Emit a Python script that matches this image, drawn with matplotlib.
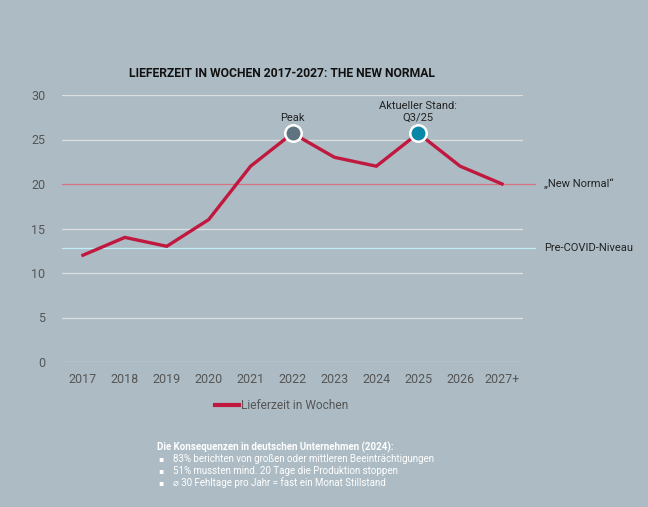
import matplotlib
matplotlib.use("Agg")
import matplotlib.pyplot as plt
import matplotlib.transforms as mtransforms

plt.rcParams['font.family'] = ['Roboto', 'DejaVu Sans']

# data
years = ["2017", "2018", "2019", "2020", "2021", "2022", "2023", "2024", "2025", "2026", "2027+"]
weeks = [12, 14, 13, 16, 22, 25.7, 23, 22, 25.7, 22, 20]
peak_idx = 5
current_idx = 8
new_normal = 20
pre_covid = 12.8
y_ticks = [0, 5, 10, 15, 20, 25, 30]
notes = [
    "83% berichten von großen oder mittleren Beeinträchtigungen",
    "51% mussten mind. 20 Tage die Produktion stoppen",
    "⌀ 30 Fehltage pro Jahr = fast ein Monat Stillstand",
]

bg = "#adbcc4"
line_col = "#c0183f"

fig = plt.figure(figsize=(6.48, 5.07), dpi=100)
fig.patch.set_facecolor(bg)
ax = fig.add_axes([62 / 648, 1 - 362 / 507, 461 / 648, 267 / 507])
ax.set_facecolor(bg)

x = list(range(len(years)))
ax.set_xlim(-0.5, len(years) - 0.5)
ax.set_ylim(0, 30)

for t in y_ticks:
    if t != new_normal:
        ax.axhline(t, color="#dedede", lw=0.9, zorder=1)

trans = mtransforms.blended_transform_factory(ax.transAxes, ax.transData)
ax.plot([0, 1.027], [new_normal, new_normal], transform=trans, color="#d9707f",
        lw=0.9, clip_on=False, zorder=2)
ax.plot([0, 1.027], [pre_covid, pre_covid], transform=trans, color="#bdeefa",
        lw=0.9, clip_on=False, zorder=2)
ax.text(1.045, new_normal, "\u201eNew Normal\u201c", transform=trans, fontsize=8,
        color="#222222", va="center", ha="left")
ax.text(1.045, pre_covid, "Pre-COVID-Niveau", transform=trans, fontsize=8,
        color="#222222", va="center", ha="left")

ax.plot(x, weeks, color=line_col, lw=2.4, zorder=3, label="Lieferzeit in Wochen",
        solid_joinstyle="miter")
ax.scatter([x[peak_idx]], [weeks[peak_idx]], s=140, color="#5f7480",
           edgecolor="white", linewidth=1.8, zorder=4)
ax.scatter([x[current_idx]], [weeks[current_idx]], s=140, color="#0a87a6",
           edgecolor="white", linewidth=1.8, zorder=4)
ax.annotate("Peak", (x[peak_idx], weeks[peak_idx]), xytext=(0, 7.5),
            textcoords="offset points", ha="center", va="bottom", fontsize=8,
            color="#222222")
ax.annotate("Aktueller Stand:\nQ3/25", (x[current_idx], weeks[current_idx]),
            xytext=(0, 7.5), textcoords="offset points", ha="center", va="bottom",
            fontsize=8, color="#222222", linespacing=1.25)

ax.set_xticks(x)
ax.set_xticklabels(years)
ax.set_yticks(y_ticks)
ax.tick_params(length=0, labelsize=9, colors="#555555")
ax.tick_params(axis="x", pad=8)
ax.tick_params(axis="y", pad=12)
for s in ax.spines.values():
    s.set_visible(False)

fig.text(282 / 648, 1 - 73 / 507, "LIEFERZEIT IN WOCHEN 2017-2027: THE NEW NORMAL",
         fontsize=8.7, fontweight="bold", color="#111111", ha="center", va="center")

leg = ax.legend(loc="upper center", bbox_to_anchor=(0.477, -0.1), frameon=False,
                fontsize=8.6, handlelength=2.0, handletextpad=0.15)
for t in leg.get_texts():
    t.set_color("#555555")
for h in leg.get_lines():
    h.set_linewidth(3)

fig.text(157 / 648, 1 - 447 / 507, "Die Konsequenzen in deutschen Unternehmen (2024):",
         fontsize=7, fontweight="bold", color="white", va="center")
for i, n in enumerate(notes):
    yy = 1 - (459 + i * 12) / 507
    fig.text(158 / 648, yy, "\u25aa", fontsize=5.5, color="white", va="center")
    fig.text(173 / 648, yy, n, fontsize=7, color="white", va="center")

fig.savefig("out.png", dpi=100, facecolor=bg)
